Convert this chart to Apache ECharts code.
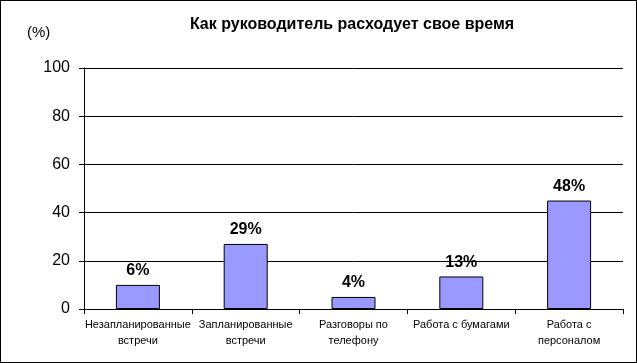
<!DOCTYPE html>
<html><head><meta charset="utf-8">
<script src="https://cdn.jsdelivr.net/npm/echarts@6/dist/echarts.min.js"></script>
<style>html,body{margin:0;padding:0;background:#fff}#c{width:637px;height:363px;box-sizing:border-box;border:1px solid #000}</style>
</head><body><div id="c"></div>
<script>
var categories = ['Незапланированные\nвстречи','Запланированные\nвстречи','Разговоры по\nтелефону','Работа с бумагами','Работа с\nперсоналом'];
var barHeights = [10, 27, 5, 13.5, 45];
var barLabels = ['6%','29%','4%','13%','48%'];
var yTicks = [0, 20, 40, 60, 80, 100];
var chartTitle = 'Как руководитель расходует свое время';
var unitLabel = '(%)';

var chart = echarts.init(document.getElementById('c'), null, {renderer:'canvas'});
chart.setOption({
  animation:false,
  backgroundColor:'#fff',
  title:[
    {text:chartTitle, left:351, top:16, padding:0, textAlign:'center',
     textStyle:{fontFamily:'Liberation Sans, Arial', fontSize:16, fontWeight:'bold', color:'#000'}},
    {text:unitLabel, left:26, top:24, padding:0,
     textStyle:{fontFamily:'Liberation Sans, Arial', fontSize:15, fontWeight:'normal', color:'#000'}}
  ],
  grid:{left:83, right:13, top:67, bottom:53, containLabel:false},
  xAxis:{type:'category', data:categories,
    axisLine:{lineStyle:{color:'#000', width:1}},
    axisTick:{show:true, alignWithLabel:false, length:5, lineStyle:{color:'#000'}},
    axisLabel:{interval:0, color:'#000', fontFamily:'Liberation Sans, Arial', fontSize:11, lineHeight:16, margin:8}
  },
  yAxis:{type:'value', min:yTicks[0], max:yTicks[yTicks.length-1], interval:20,
    axisLine:{show:true, lineStyle:{color:'#000'}},
    axisTick:{show:true, length:5, lineStyle:{color:'#000'}},
    axisLabel:{color:'#000', fontFamily:'Liberation Sans, Arial', fontSize:16, margin:14},
    splitLine:{show:true, lineStyle:{color:'#000', width:1}}
  },
  series:[{type:'bar', data:barHeights.map(function(v,i){return {value:v, label:{formatter:barLabels[i]}};}),
    barWidth:44,
    itemStyle:{color:'#9999FF', borderColor:'#000', borderWidth:1},
    label:{show:true, position:'top', distance:6, color:'#000', fontFamily:'Liberation Sans, Arial', fontSize:16, fontWeight:'bold'}
  }]
});
</script></body></html>
